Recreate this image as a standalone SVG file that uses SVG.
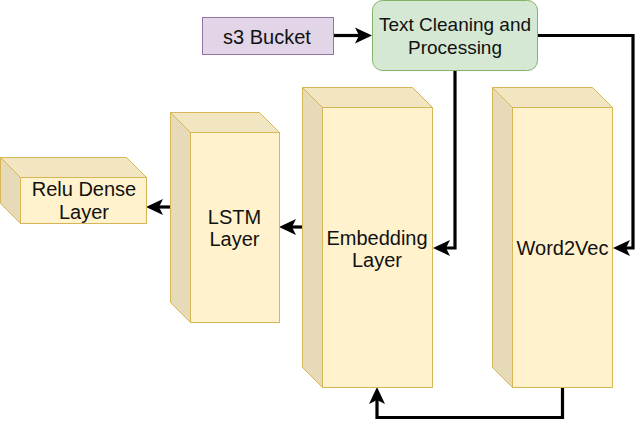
<svg xmlns="http://www.w3.org/2000/svg" width="643" height="429" viewBox="0 0 643 429">
<style>
.t{font-family:"Liberation Sans",Arial,sans-serif;font-size:20px;fill:#111;text-anchor:middle}
.s{font-size:19px}
.front{fill:#fff2cc;stroke:#d6b656;stroke-width:1}
.top{fill:#f2e6c2;stroke:#d6b656;stroke-width:1}
.side{fill:#e6dab8;stroke:#d6b656;stroke-width:1}
.c{fill:none;stroke:#000;stroke-width:3.2;marker-end:url(#ah)}
</style>
<defs>
<marker id="ah" markerUnits="userSpaceOnUse" viewBox="-18 -9 20 18" markerWidth="20" markerHeight="18" refX="-13" refY="0" orient="auto">
<path d="M0,0 L-17,-8 L-13,0 L-17,8 Z" fill="#000"/>
</marker>
</defs>

<g id="connectors">
<path class="c" d="M333,35.5 H359"/>
<path class="c" d="M455,70.7 V248 H446"/>
<path class="c" d="M537.7,35.5 H633 V248 H626"/>
<path class="c" d="M562.5,387 V417.5 H377 V400"/>
<path class="c" d="M302,227 H292"/>
<path class="c" d="M170,207 H159"/>
</g>

<g id="s3-bucket">
<rect x="202.5" y="17.5" width="131" height="37" fill="#e1d5e7" stroke="#9673a6"/>
<text class="t" x="267" y="43.5">s3 Bucket</text>
</g>

<g id="text-cleaning">
<rect x="372.5" y="0.5" width="165" height="70" rx="10" ry="10" fill="#d5e8d4" stroke="#82b366"/>
<text class="t s" x="455" y="31">Text Cleaning and</text>
<text class="t s" x="455" y="53.5">Processing</text>
</g>

<g id="relu-dense">
<path class="top" d="M0.5,157.5 H126.5 L146.5,177.5 H20.5 Z"/>
<path class="side" d="M0.5,157.5 L20.5,177.5 V223.5 L0.5,203.5 Z"/>
<rect class="front" x="20.5" y="177.5" width="126" height="46"/>
<text class="t" x="84" y="196">Relu Dense</text>
<text class="t" x="84" y="219">Layer</text>
</g>

<g id="lstm">
<path class="top" d="M170.5,112.5 H259.5 L279.5,132.5 H190.5 Z"/>
<path class="side" d="M170.5,112.5 L190.5,132.5 V322.5 L170.5,302.5 Z"/>
<rect class="front" x="190.5" y="132.5" width="89" height="190"/>
<text class="t" x="234.5" y="223.5">LSTM</text>
<text class="t" x="234.5" y="246">Layer</text>
</g>

<g id="embedding">
<path class="top" d="M302.5,87.5 H412.5 L432.5,107.5 H322.5 Z"/>
<path class="side" d="M302.5,87.5 L322.5,107.5 V387.5 L302.5,367.5 Z"/>
<rect class="front" x="322.5" y="107.5" width="110" height="280"/>
<text class="t" x="377" y="245">Embedding</text>
<text class="t" x="377" y="267">Layer</text>
</g>

<g id="word2vec">
<path class="top" d="M492.5,87.5 H592.5 L612.5,107.5 H512.5 Z"/>
<path class="side" d="M492.5,87.5 L512.5,107.5 V387.5 L492.5,367.5 Z"/>
<rect class="front" x="512.5" y="107.5" width="100" height="280"/>
<text class="t" x="562.5" y="254.5">Word2Vec</text>
</g>
</svg>
